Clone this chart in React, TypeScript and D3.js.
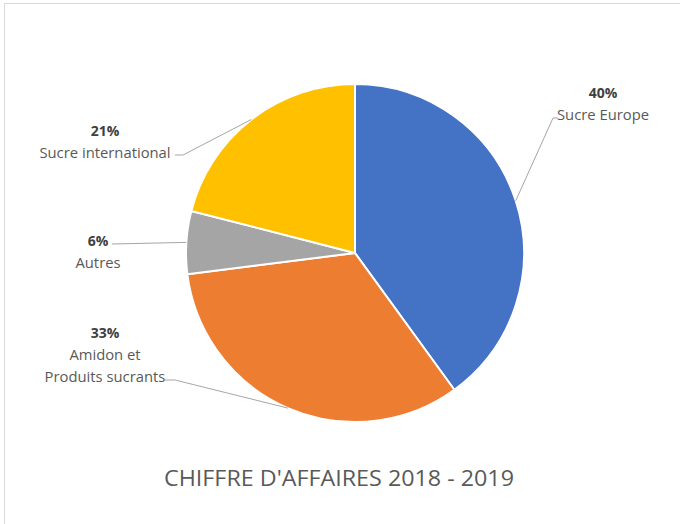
import { useEffect, useRef } from "react";
import * as d3 from "d3";

const categories = ["Sucre Europe", "Amidon et\nProduits sucrants", "Autres", "Sucre international"];
const values = [40, 33, 6, 21];
const percentLabels = ["40%", "33%", "6%", "21%"];
const colors = ["#4472C4", "#ED7D31", "#A5A5A5", "#FFC000"];

// label anchor (text centre) and leader bend point per slice
const labelPos = [
  { x: 603, y: 98, bend: [553, 118], end: [558, 118] },
  { x: 105, y: 338, bend: [175, 380], end: [165, 380] },
  { x: 98, y: 246, bend: [112, 244], end: [112, 244] },
  { x: 105, y: 136, bend: [183, 155], end: [175, 155] },
];

const title = "CHIFFRE D'AFFAIRES 2018 - 2019";

export default function App() {
  const svgRef = useRef<SVGSVGElement>(null);
  const width = 680;
  const height = 524;

  useEffect(() => {
    if (!svgRef.current) return;
    const svg = d3.select(svgRef.current);
    svg.selectAll("*").remove();

    const cx = 355;
    const cy = 253;
    const r = 169;

    svg.append("rect").attr("width", width).attr("height", height).attr("fill", "#fff");

    // frame
    svg.append("line").attr("x1", 4.5).attr("x2", 4.5).attr("y1", 3).attr("y2", height)
      .attr("stroke", "#d9d9d9");
    svg.append("line").attr("x1", 4).attr("x2", width).attr("y1", 3.5).attr("y2", 3.5)
      .attr("stroke", "#d9d9d9");

    const pie = d3.pie<number>().sort(null).value((d) => d);
    const arcs = pie(values);
    const arc = d3.arc<d3.PieArcDatum<number>>().innerRadius(0).outerRadius(r);

    const g = svg.append("g").attr("transform", `translate(${cx},${cy})`);
    g.selectAll("path")
      .data(arcs)
      .join("path")
      .attr("d", arc)
      .attr("fill", (_, i) => colors[i])
      .attr("stroke", "#fff")
      .attr("stroke-width", 2)
      .attr("stroke-linejoin", "round");

    // leader lines
    arcs.forEach((a, i) => {
      const mid = (a.startAngle + a.endAngle) / 2;
      const sx = cx + r * Math.sin(mid);
      const sy = cy - r * Math.cos(mid);
      const lp = labelPos[i];
      svg.append("polyline")
        .attr("points", `${sx},${sy} ${lp.bend[0]},${lp.bend[1]} ${lp.end[0]},${lp.end[1]}`)
        .attr("fill", "none")
        .attr("stroke", "#a6a6a6")
        .attr("stroke-width", 1);

      const t = svg.append("text")
        .attr("x", lp.x)
        .attr("y", lp.y)
        .attr("text-anchor", "middle")
        .style("font-family", "'Open Sans', sans-serif");
      t.append("tspan")
        .attr("x", lp.x)
        .attr("font-size", 14)
        .attr("font-weight", "bold")
        .attr("fill", "#404040")
        .text(percentLabels[i]);
      categories[i].split("\n").forEach((line) => {
        t.append("tspan")
          .attr("x", lp.x)
          .attr("dy", 22)
          .attr("font-size", 14.8)
          .attr("fill", "#595959")
          .text(line);
      });
    });

    svg.append("text")
      .attr("x", 339)
      .attr("y", 486)
      .attr("text-anchor", "middle")
      .attr("font-size", 22)
      .attr("textLength", 350)
      .attr("lengthAdjust", "spacingAndGlyphs")
      .attr("fill", "#595959")
      .style("font-family", "'Open Sans', sans-serif")
      .text(title);
  }, []);

  return (
    <svg
      ref={svgRef}
      width={width}
      height={height}
      style={{ position: "absolute", left: 0, top: 0 }}
    />
  );
}
